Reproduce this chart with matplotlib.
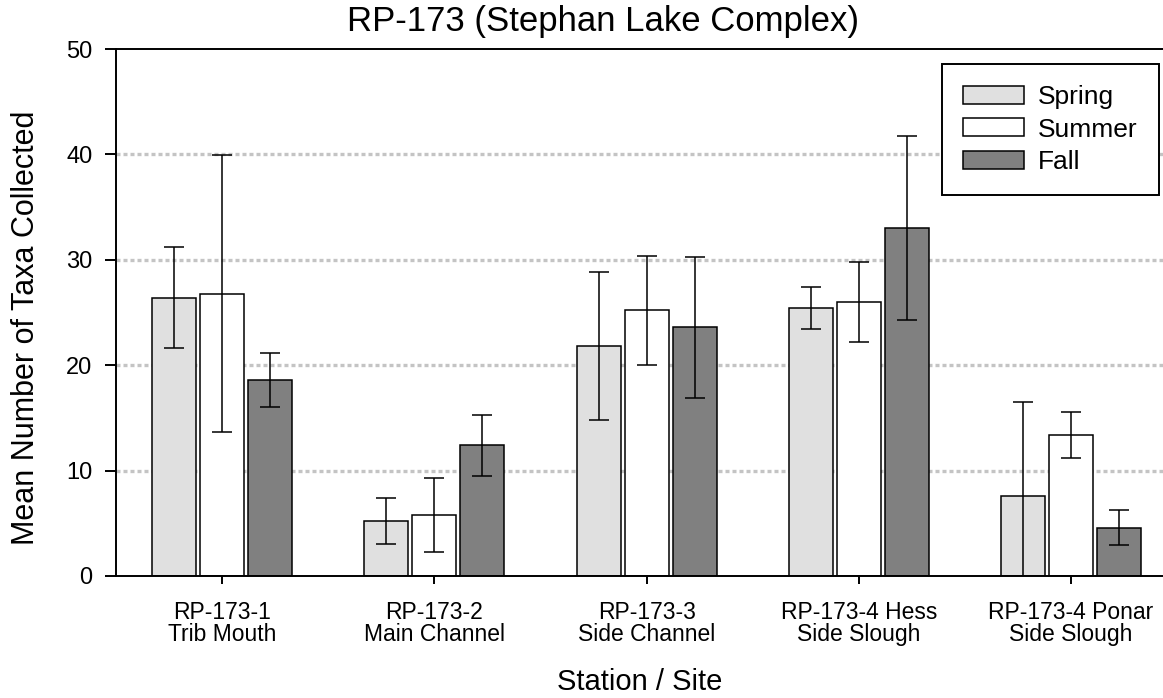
import matplotlib
matplotlib.use("Agg")
import matplotlib.pyplot as plt
import numpy as np

plt.rcParams.update({
    "font.family": ["Liberation Sans", "DejaVu Sans"],
    "axes.linewidth": 1.4,
})

stations = ["RP-173-1\nTrib Mouth", "RP-173-2\nMain Channel", "RP-173-3\nSide Channel",
            "RP-173-4 Hess\nSide Slough", "RP-173-4 Ponar\nSide Slough"]
seasons = ["Spring", "Summer", "Fall"]

# mean taxa per season, one value per station
spring_mean = [26.4, 5.2, 21.8, 25.4, 7.6]
summer_mean = [26.8, 5.8, 25.2, 26.0, 13.4]
fall_mean = [18.6, 12.4, 23.6, 33.0, 4.6]

# error bar half-widths
spring_err = [4.8, 2.2, 7.0, 2.0, 8.9]
summer_err = [13.1, 3.5, 5.2, 3.8, 2.2]
fall_err = [2.55, 2.9, 6.7, 8.7, 1.7]

means = [spring_mean, summer_mean, fall_mean]
errs = [spring_err, summer_err, fall_err]
colors = ["#e0e0e0", "#ffffff", "#808080"]

fig = plt.figure(figsize=(11.63, 6.98), dpi=100)
ax = fig.add_axes([116 / 1163, 1 - 576 / 698, 1 - 116 / 1163, (576 - 49) / 698])

x = np.arange(len(stations))
width = 0.207
step = 0.226
for i, (m, e, c) in enumerate(zip(means, errs, colors)):
    ax.bar(x + (i - 1) * step, m, width, color=c, edgecolor="black", linewidth=1.1,
           label=seasons[i], zorder=2)
    ax.errorbar(x + (i - 1) * step, m, yerr=e, fmt="none", ecolor="black",
                elinewidth=1.1, capsize=7, capthick=1.1, zorder=3)

ax.set_xlim(-0.5, 4.433)
ax.set_ylim(0, 50)
ax.set_yticks([0, 10, 20, 30, 40, 50])
ax.set_xticks(x)
ax.set_xticklabels(stations, fontsize=16.5, linespacing=0.95)
ax.tick_params(axis="y", direction="out", length=8, width=1.4, labelsize=17, pad=9)
ax.tick_params(axis="x", direction="out", length=6, width=1.4, pad=12)
ax.spines["right"].set_visible(False)

for yv in [10, 20, 30, 40]:
    ax.axhline(yv, color="#c4c4c4", linewidth=2.4, linestyle=(0, (1.2, 0.9)), zorder=1)

ax.set_xlabel("Station / Site", fontsize=21, labelpad=16)
ax.set_ylabel("Mean Number of Taxa Collected", fontsize=22)
ax.yaxis.set_label_coords(-0.072, 0.47)

fig.text(603 / 1163, 1 - 22 / 698, "RP-173 (Stephan Lake Complex)", fontsize=25,
         ha="center", va="center")

leg = ax.legend(loc="upper right", bbox_to_anchor=(1159 / 1163, 1 - 64 / 698),
                bbox_transform=fig.transFigure, fontsize=19, frameon=True, fancybox=False,
                edgecolor="black", framealpha=1, handlelength=2.3, handleheight=0.68,
                labelspacing=0.32, borderpad=0.8, handletextpad=0.55, borderaxespad=0)
leg.get_frame().set_linewidth(1.4)

fig.savefig("out.png", dpi=100)
